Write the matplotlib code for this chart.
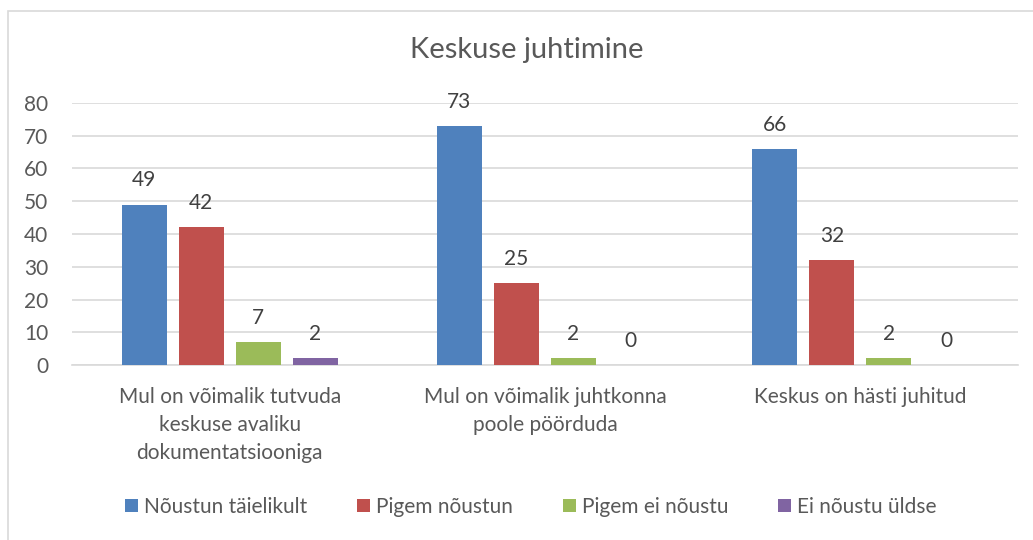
import matplotlib
matplotlib.use("Agg")
import matplotlib.pyplot as plt
from matplotlib.patches import Rectangle
import numpy as np

# --- Data ---
categories = [
    "Mul on võimalik tutvuda\nkeskuse avaliku\ndokumentatsiooniga",
    "Mul on võimalik juhtkonna\npoole pöörduda",
    "Keskus on hästi juhitud",
]
series_names = ["Nõustun täielikult", "Pigem nõustun", "Pigem ei nõustu", "Ei nõustu üldse"]
nous_taielikult = [49, 73, 66]
pigem_noustun = [42, 25, 32]
pigem_ei_noustu = [7, 2, 2]
ei_noustu_uldse = [2, 0, 0]
colors = ["#4f81bd", "#c0504d", "#9bbb59", "#8064a2"]
# --------------

plt.rcParams["font.family"] = ["Lato", "DejaVu Sans"]
text_color = "#595959"
grid_color = "#d9d9d9"

fig = plt.figure(figsize=(10.33, 5.40), dpi=100)
fig.patches.append(Rectangle((8 / 1033, -0.1), 1.2, 1 - 11 / 540 + 0.1,
                             transform=fig.transFigure, fill=False,
                             edgecolor=grid_color, linewidth=1.2))

ax = fig.add_axes([72 / 1033, 1 - 365 / 540, (1018 - 72) / 1033, (365 - 103) / 540])

x = np.arange(len(categories))
step = 0.181
width = 0.143
all_series = [nous_taielikult, pigem_noustun, pigem_ei_noustu, ei_noustu_uldse]
for i, (vals, name, c) in enumerate(zip(all_series, series_names, colors)):
    pos = x + (i - 1.5) * step
    ax.bar(pos, vals, width, color=c, label=name, zorder=3)
    for xp, v in zip(pos, vals):
        ax.annotate(str(v), (xp, v), xytext=(0, 17.3), textcoords="offset points",
                    ha="center", va="center", fontsize=15, color="#404040")

ax.set_xlim(-0.5, 2.5)
ax.set_ylim(0, 80)
ax.set_yticks(range(0, 81, 10))
ax.yaxis.grid(True, color=grid_color, linewidth=1.2, zorder=0)
for s in ["left", "right", "top"]:
    ax.spines[s].set_visible(False)
ax.spines["bottom"].set_color(grid_color)
ax.spines["bottom"].set_linewidth(1.2)
ax.tick_params(axis="y", length=0, pad=17, labelsize=15, labelcolor=text_color)
ax.tick_params(axis="x", length=0, pad=16, labelsize=15, labelcolor=text_color)
ax.set_xticks(x)
ax.set_xticklabels(categories, linespacing=1.5, va="top")

fig.text(527 / 1033, 1 - 50 / 540, "Keskuse juhtimine", ha="center", va="center",
         fontsize=21, color=text_color)

fig.legend(loc="center", bbox_to_anchor=(531 / 1033, 1 - 507 / 540), ncol=4,
           frameon=False, fontsize=15, labelcolor=text_color,
           handlelength=0.6, handleheight=0.6, handletextpad=0.3,
           columnspacing=2.4)

fig.savefig("out.png", dpi=100)
